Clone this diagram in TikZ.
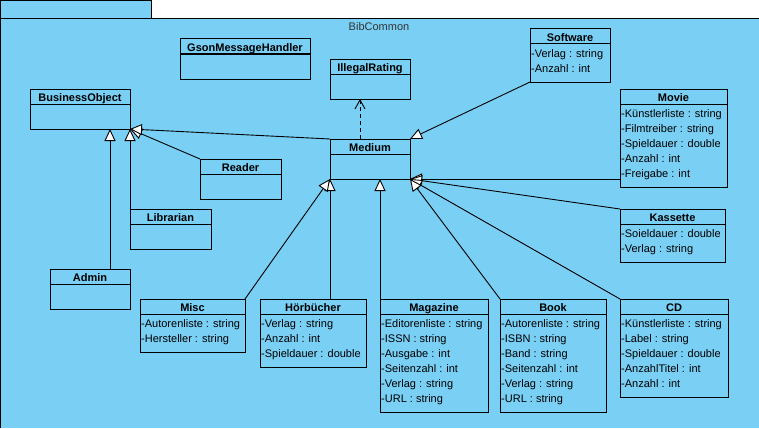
\documentclass[tikz,border=0pt]{standalone}
\usepackage{fontspec}
\setmainfont{Liberation Sans}
\usetikzlibrary{arrows.meta,calc}
\definecolor{pkgblue}{RGB}{122,207,245}
\newcommand{\attrstrut}{\vrule height 13.5pt depth 1.5pt width 0pt}
\newcommand{\tightlines}{\lineskiplimit=-20pt\relax\lineskip=0pt\relax}
\newcommand{\umlclass}[7]{%
  \node[cls, minimum width=#4pt, minimum height=#5pt, anchor=north west] (#1) at (#2,#3) {};
  \node[ttl, anchor=north] (#1-t) at (#1.north) {#6};
  \draw[line width=1pt] ([yshift=-15pt]#1.north west) -- ([yshift=-15pt]#1.north east);
  \node[attr, anchor=north west] (#1-a) at ([yshift=-15pt]#1.north west) {#7};
}
\tikzset{
  cls/.style={draw, line width=1pt, inner sep=0pt, outer sep=0pt},
  ttl/.style={font=\fontsize{11}{15}\selectfont\bfseries, inner xsep=1pt, inner ysep=0pt, text height=12pt, text depth=3pt},
  attr/.style={font=\fontsize{11}{15}\selectfont\tightlines, align=left, inner xsep=1pt, inner ysep=0pt},
  inh/.style={line width=0.9pt, -{Triangle[length=12pt,width=11pt,fill=white]}},
  dep/.style={line width=0.9pt, dash pattern=on 4pt off 3pt, -{Straight Barb[length=9pt,width=10pt,line width=0.9pt]}},
}
\begin{document}
\begin{tikzpicture}[x=1pt,y=-1pt]
\useasboundingbox (0,0) rectangle (759,428);
\fill[white] (0,0) rectangle (759,428);
\fill[pkgblue] (0,19) rectangle (759,428);
\draw[line width=1pt] (0.5,428) -- (0.5,19) -- (759,19);
\filldraw[fill=pkgblue, line width=1pt] (0.5,0.5) rectangle (151,19);
\node[font=\fontsize{11}{13}\selectfont, text=black!80] (pkglabel) at (379,27) {BibCommon};

\umlclass{gson}{180}{39}{130}{40}{GsonMessageHandler}{}
\umlclass{illegal}{330}{59}{80}{40}{IllegalRating}{}
\umlclass{bo}{30}{89}{100}{40}{BusinessObject}{}
\umlclass{software}{530}{29}{80}{53}{Software}{\attrstrut-Verlag : string\\\attrstrut-Anzahl : int}
\umlclass{movie}{620}{89}{107}{98}{Movie}{\attrstrut-Künstlerliste : string\\\attrstrut-Filmtreiber : string\\\attrstrut-Spieldauer : double\\\attrstrut-Anzahl : int\\\attrstrut-Freigabe : int}
\umlclass{medium}{330}{139}{80}{40}{Medium}{}
\umlclass{reader}{200}{159}{81}{40}{Reader}{}
\umlclass{librarian}{130}{209}{81}{40}{Librarian}{}
\umlclass{admin}{50}{269}{80}{40}{Admin}{}
\umlclass{kassette}{620}{209}{105}{53}{Kassette}{\attrstrut-Soieldauer : double\\\attrstrut-Verlag : string}
\umlclass{misc}{140}{299}{105}{53}{Misc}{\attrstrut-Autorenliste : string\\\attrstrut-Hersteller : string}
\umlclass{hoer}{260}{299}{106}{68}{Hörbücher}{\attrstrut-Verlag : string\\\attrstrut-Anzahl : int\\\attrstrut-Spieldauer : double}
\umlclass{magazine}{380}{299}{108}{113}{Magazine}{\attrstrut-Editorenliste : string\\\attrstrut-ISSN : string\\\attrstrut-Ausgabe : int\\\attrstrut-Seitenzahl : int\\\attrstrut-Verlag : string\\\attrstrut-URL : string}
\umlclass{book}{500}{299}{106}{113}{Book}{\attrstrut-Autorenliste : string\\\attrstrut-ISBN : string\\\attrstrut-Band : string\\\attrstrut-Seitenzahl : int\\\attrstrut-Verlag : string\\\attrstrut-URL : string}
\umlclass{cd}{620}{299}{108}{98}{CD}{\attrstrut-Künstlerliste : string\\\attrstrut-Label : string\\\attrstrut-Spieldauer : double\\\attrstrut-AnzahlTitel : int\\\attrstrut-Anzahl : int}

% connectors
\coordinate (adm) at ($(admin.north)!0.5!(admin.north east)$);
\coordinate (md) at ($(medium.north west)!0.375!(medium.north east)$);
\draw[dep] (md) -- (md |- illegal.south);
\draw[inh] (adm) -- (adm |- bo.south);
\draw[inh] (librarian.north west) -- (bo.south east);
\draw[inh] (reader.north west) -- (bo.south east);
\draw[inh] (medium.north west) -- (bo.south east);
\draw[inh] (software.south west) -- (medium.north east);
\draw[inh] (movie.west |- medium.south east) -- (medium.south east);
\draw[inh] (kassette.north west) -- (medium.south east);
\draw[inh] (cd.north west) -- (medium.south east);
\draw[inh] (book.north west) -- (medium.south east);
\draw[inh] (magazine.north west) -- (magazine.north west |- medium.south);
\draw[inh] (medium.south west |- hoer.north) -- (medium.south west);
\draw[inh] (misc.north east) -- (medium.south west);
\end{tikzpicture}
\end{document}
